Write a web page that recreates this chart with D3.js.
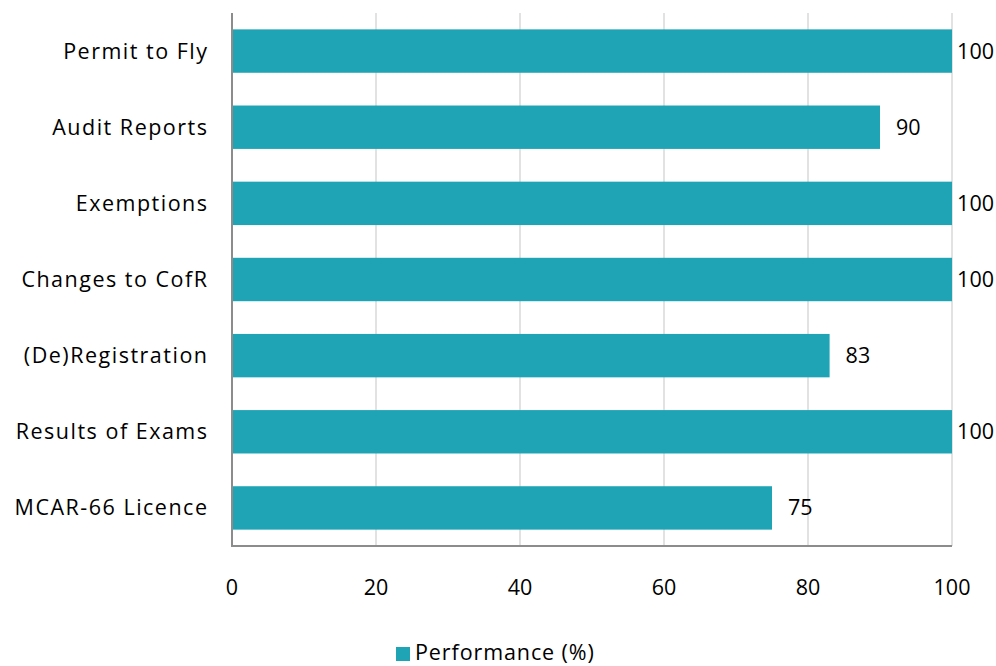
<!DOCTYPE html>
<html><head><meta charset="utf-8">
<script src="https://cdn.jsdelivr.net/npm/d3@7"></script>
<style>body{margin:0;background:#fff}svg{display:block}text{font-family:"Open Sans",Lato,sans-serif;fill:#000}</style>
</head><body><svg id="c" width="996" height="666"></svg>
<script>
const categories=["Permit to Fly","Audit Reports","Exemptions","Changes to CofR","(De)Registration","Results of Exams","MCAR-66 Licence"];
const values=[100,90,100,100,83,100,75];
const xTicks=[0,20,40,60,80,100];
const seriesName="Performance (%)";
const color="#1fa4b6";
const fs=21.5;

const svg=d3.select("#c");
const m={l:232,r:952,t:13,b:546};
const x=d3.scaleLinear().domain([0,100]).range([m.l,m.r]);
const y=d3.scaleBand().domain(categories).range([m.t,m.b]).paddingInner(0.43).paddingOuter(0.215);

svg.append("g").selectAll("line").data(xTicks.filter(d=>d>0)).join("line")
 .attr("x1",d=>x(d)).attr("x2",d=>x(d)).attr("y1",m.t).attr("y2",m.b)
 .attr("stroke","#d9d9d9").attr("stroke-width",1.5);

svg.append("g").selectAll("rect").data(values).join("rect")
 .attr("x",x(0)).attr("y",(d,i)=>y(categories[i])).attr("width",d=>x(d)-x(0)).attr("height",y.bandwidth())
 .attr("fill",color);

svg.append("line").attr("x1",m.l).attr("x2",m.l).attr("y1",m.t).attr("y2",m.b+1).attr("stroke","#8c8c8c").attr("stroke-width",2);
svg.append("line").attr("x1",m.l-1).attr("x2",m.r).attr("y1",m.b).attr("y2",m.b).attr("stroke","#8c8c8c").attr("stroke-width",2);

svg.append("g").selectAll("text").data(xTicks).join("text")
 .attr("x",d=>x(d)).attr("y",595).attr("text-anchor","middle").attr("font-size",fs).text(d=>d);

svg.append("g").selectAll("text").data(categories).join("text")
 .attr("x",208.5).attr("y",d=>y(d)+y.bandwidth()/2).attr("dy","0.35em").attr("text-anchor","end")
 .attr("font-size",fs).attr("letter-spacing",1.5).text(d=>d);

const lbl=svg.append("g").selectAll("text").data(values).join("text")
 .attr("y",(d,i)=>y(categories[i])+y.bandwidth()/2).attr("dy","0.35em").attr("font-size",fs).text(d=>d);
lbl.each(function(d){const w=this.getComputedTextLength();let xs=x(d)+16;if(xs+w>994)xs=994-w;d3.select(this).attr("x",xs);});

const lg=svg.append("g");
lg.append("rect").attr("x",396).attr("y",647).attr("width",14).attr("height",14).attr("fill",color);
lg.append("text").attr("x",415).attr("y",660).attr("font-size",fs).attr("letter-spacing",0.9).text(seriesName);
</script></body></html>
